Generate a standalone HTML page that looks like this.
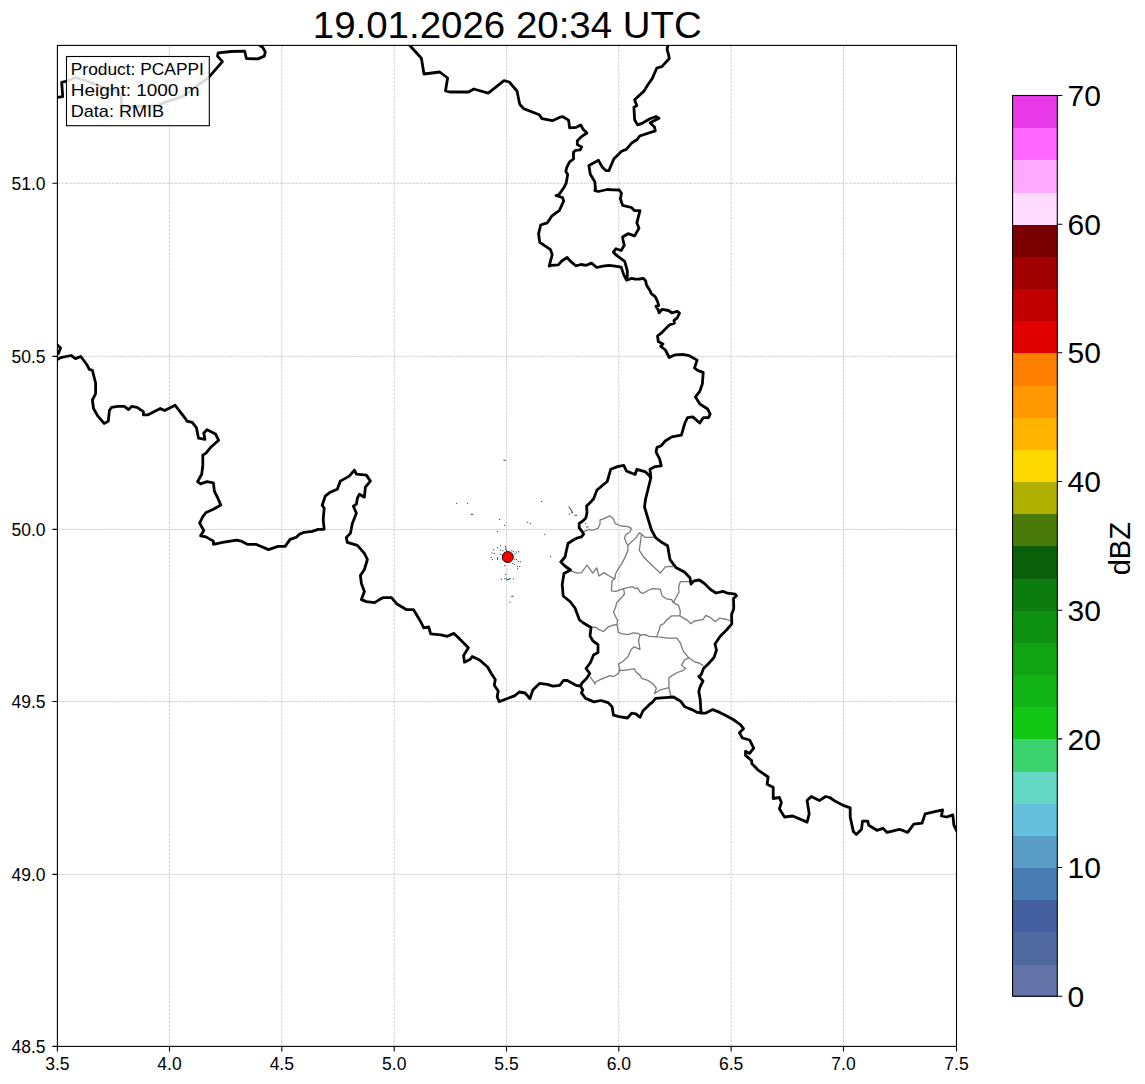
<!DOCTYPE html>
<html><head><meta charset="utf-8"><style>
html,body{margin:0;padding:0;background:#fff;width:1145px;height:1084px;overflow:hidden}
svg{display:block}
text{font-family:"Liberation Sans",sans-serif;fill:#000}
</style></head><body>
<svg width="1145" height="1084" viewBox="0 0 1145 1084">
<rect x="0" y="0" width="1145" height="1084" fill="#fff"/>

<path d="M169.5,45.4V1046.4M281.8,45.4V1046.4M394.2,45.4V1046.4M506.5,45.4V1046.4M618.8,45.4V1046.4M731.1,45.4V1046.4M843.5,45.4V1046.4M57.4,183.2H956.5M57.4,356.4H956.5M57.4,529.4H956.5M57.4,701.5H956.5M57.4,874.4H956.5" fill="none" stroke="#bcbcbc" stroke-width="0.7" stroke-dasharray="2.9,1"/>
<clipPath id="ax"><rect x="57.4" y="45.4" width="899.1" height="1001.0000000000001"/></clipPath>
<g clip-path="url(#ax)">
<rect x="500.1" y="544.9" width="1.1" height="1.1" fill="#34506e"/>
<rect x="504.9" y="545.9" width="1.1" height="1.1" fill="#34506e"/>
<rect x="497.0" y="547.0" width="1.1" height="1.1" fill="#34506e"/>
<rect x="492.8" y="549.0" width="1.1" height="1.1" fill="#34506e"/>
<rect x="500.1" y="549.7" width="1.1" height="1.1" fill="#34506e"/>
<rect x="502.2" y="550.1" width="1.1" height="1.1" fill="#34506e"/>
<rect x="511.2" y="550.1" width="1.1" height="1.1" fill="#34506e"/>
<rect x="512.9" y="551.1" width="1.1" height="1.1" fill="#34506e"/>
<rect x="516.0" y="551.5" width="1.1" height="1.1" fill="#34506e"/>
<rect x="518.1" y="551.1" width="1.1" height="1.1" fill="#34506e"/>
<rect x="491.4" y="552.5" width="1.1" height="1.1" fill="#34506e"/>
<rect x="493.8" y="552.9" width="1.1" height="1.1" fill="#34506e"/>
<rect x="500.1" y="553.9" width="1.1" height="1.1" fill="#34506e"/>
<rect x="514.3" y="553.2" width="1.1" height="1.1" fill="#34506e"/>
<rect x="490.7" y="557.0" width="1.1" height="1.1" fill="#34506e"/>
<rect x="491.8" y="559.1" width="1.1" height="1.1" fill="#34506e"/>
<rect x="514.3" y="558.7" width="1.1" height="1.1" fill="#34506e"/>
<rect x="516.0" y="559.1" width="1.1" height="1.1" fill="#34506e"/>
<rect x="517.7" y="560.8" width="1.1" height="1.1" fill="#34506e"/>
<rect x="519.8" y="561.2" width="1.1" height="1.1" fill="#34506e"/>
<rect x="512.2" y="562.9" width="1.1" height="1.1" fill="#34506e"/>
<rect x="513.9" y="563.9" width="1.1" height="1.1" fill="#34506e"/>
<rect x="504.2" y="565.0" width="1.1" height="1.1" fill="#34506e"/>
<rect x="517.0" y="566.0" width="1.1" height="1.1" fill="#34506e"/>
<rect x="519.1" y="566.0" width="1.1" height="1.1" fill="#34506e"/>
<rect x="517.0" y="568.1" width="1.1" height="1.1" fill="#34506e"/>
<rect x="505.3" y="574.0" width="1.1" height="1.1" fill="#34506e"/>
<rect x="500.8" y="578.8" width="1.1" height="1.1" fill="#34506e"/>
<rect x="504.2" y="578.1" width="1.1" height="1.1" fill="#34506e"/>
<rect x="512.9" y="578.1" width="1.1" height="1.1" fill="#34506e"/>
<rect x="511.5" y="595.8" width="1.1" height="1.1" fill="#34506e"/>
<rect x="509.5" y="601.7" width="1.1" height="1.1" fill="#34506e"/>
<rect x="456.0" y="502.8" width="1.1" height="1.1" fill="#34506e"/>
<rect x="467.0" y="502.8" width="1.1" height="1.1" fill="#34506e"/>
<rect x="499.0" y="518.9" width="1.1" height="1.1" fill="#34506e"/>
<rect x="504.1" y="524.9" width="1.1" height="1.1" fill="#34506e"/>
<rect x="497.0" y="531.0" width="1.1" height="1.1" fill="#34506e"/>
<rect x="526.8" y="521.7" width="1.1" height="1.1" fill="#34506e"/>
<rect x="530.0" y="523.0" width="1.1" height="1.1" fill="#34506e"/>
<rect x="541.0" y="500.9" width="1.1" height="1.1" fill="#34506e"/>
<rect x="544.1" y="533.8" width="1.1" height="1.1" fill="#34506e"/>
<rect x="585.0" y="523.0" width="1.1" height="1.1" fill="#34506e"/>
<rect x="568.9" y="513.7" width="1.1" height="1.1" fill="#34506e"/>
<rect x="549.9" y="556.2" width="1.1" height="1.1" fill="#34506e"/>
<path d="M505.8,547.5 L505.8,549.5 L507,550.5M497.5,557 L497.5,560M506,578.5 L507.5,579.8 L509.5,579 L510.5,578M503.5,460.4 L505.5,460.4M471,514.4 L473,514.4M511.5,596.3 L513.5,596.3M568.5,506.5 L570.5,509 L572.5,512.4M571,513 L573,512.5M574.5,515 L576,515.5 L577,515M586,527 L588.5,527" fill="none" stroke="#3a5a70" stroke-width="1.1"/>
<path d="M584,531.6 L589.5,529.4 L592.1,530.5 L598,528.3 L600,524 L600.1,519.8 L604.1,518.6 L609.7,515.8 L613.1,518.6 L615.4,523.7 L621.1,526 L627.9,526.6 L631.3,528.3 L630.2,531.7 L625.6,535.1 L624.5,537.9 L626.2,542.5 L627.9,545.3 L627.9,550.4 L624.5,558.4 L622.2,562.9 L617.7,569.7 L615.4,574.3 L614.8,578.8 L612,581.1 L611.4,590.9 L615.7,591.4 L623.6,588.7 L632.3,586.6 L635.8,588.7 L637.6,587.9 L640.2,592.2 L642.8,593.5 L648,590.5 L652.4,588.7 L660.3,589.2 L662,595.7 L666.4,598.8 L671.6,599.7 L673.4,602.7 L678.6,605.3 L680.3,611.4 L679.9,615.8 L683.8,618.4 L687.3,620.2 L690.8,623.7 L694.3,621 L700,620.2 L703,619.5 L705.8,615.3 L710,617.4 L715.5,621.6 L719.7,618.1 L726.7,619.5 L731.5,621M627.9,545.3 L635.8,537.9 L639.3,532.8 L641.5,534 L644.9,537.4 L649.5,537.4 L655,537.2M641.5,534 L640.4,542.5 L639.3,550.4 L643.8,557.2 L652.9,566.3 L660.3,573.1 L665.4,566.9 L670.5,566.3 L673,566.8M571.1,570.8 L576.8,573.1 L581.4,572.6 L587,565.2 L592.7,573.1 L596.7,568 L599,576 L604.1,572.6 L609.2,576 L614.8,578.8M690.8,582.2 L687.3,581.7 L680.3,581.7 L678.6,587 L679,592.2 L676,597.5 L673.4,602.7M679.9,615.8 L671.6,615.8 L666.4,620.2 L663.8,623.7 L660.3,625.4 L659.4,628.9 L656.8,636.8M623.6,588.7 L624.5,594 L621,598.3 L616.6,602.7 L615.7,607.1 L613.5,612.3 L615.7,616.7 L617.5,620.2 L617,624.5 L618.3,632.4 L621.8,633.7 L628,634.6 L633.2,632.8 L637.6,633.3 L640.2,635 L645.4,634.6 L648.9,636.3 L656.8,636.8 L661.1,637.2 L666.4,638.1 L676.9,638.1 L680.3,642.9 L683.5,651.5 L688.8,657.8 L695,662 L699.3,663.1 L703.4,665.7M617,624.5 L612.2,625.4 L607.9,627.2 L603.5,631.5 L600,630.2 L595.4,627.1 L591,627.5M640.2,635 L638.5,640 L640,649.4 L634.3,646.8 L631.1,649.4 L628,656.8 L622.7,661.5 L618.5,664.1 L619.6,669.4 L618.5,673.5 L613.3,676.7 L610.2,675.6 L600.7,679.3 L595.5,682 L595,684 L592.3,679.8 L590.2,676.7M618.5,670.4 L624.8,670.4 L630.1,669.4 L634.3,668.8 L636.4,672.5 L639.5,674.6 L641.6,678.3 L647.9,680.4 L653.1,684 L656.3,688.2 L654.7,693.5 L660.5,689.8 L668.9,687.7 L671,696.5M668.9,687.7 L668.9,677.7 L672,675.6 L677.2,672.5 L683.5,670.4 L685.6,668.3 L681.4,665.2 L684.6,659.9 L688.8,657.8" fill="none" stroke="#7a7a7a" stroke-width="1.3" stroke-linejoin="round"/>
<path d="M57.4,97.3 L62.7,96.7 L61.7,82.3 L67,81 L75.4,77.5 L85.2,80.3 L100.5,86.6 L115.9,90.7 L121.5,96.3 L121.3,104 L125,107 L150,106 L157.8,105.4 L166.2,101.9 L183,96.3 L199.7,83.8 L208.1,78.2 L222.4,61.7 L217.5,56.1 L218.2,52.9 L231.4,51.5 L244.7,51.2 L246.4,58.5 L258,58.9 L264.3,56.1 L265.3,51.9 L262.9,47.7 L259.4,45.2M409.6,45.2 L421.4,58.3 L424,74 L439.8,72 L447.6,78 L445.5,91 L450,92 L468.6,92 L473.8,89 L488.2,93.2 L497.4,85.8 L504,80.6 L509.2,82 L517,91 L519.7,104.2 L523.6,108.6 L539.3,114.7 L542,118.6 L552.4,120.7 L560,117.2 L562.9,116.7 L568.6,120.1 L569.6,127.8 L576.3,127.3 L580.7,124.9 L583.1,129.2 L586.9,133 L581.1,136.9 L577.3,140.7 L577.3,144.6 L581.6,147 L580.2,149.9 L575.4,150.4 L573.5,152.3 L573.5,159 L569.6,161.9 L566.7,167.6 L565.8,171.5 L567.7,174.4 L566.2,183 L563.8,187.8 L559,194.6 L556,195.5 L562.6,197.6 L563.7,201 L559.3,210.7 L556,212.9 L551.7,216.2 L547.3,222.8 L540.7,225 L538.6,233.7 L539.7,242.4 L543.5,244.8 L550.5,249.6 L552.2,254.8 L550.5,261 L549.2,266.2 L551.4,265.3 L558.3,264.9 L561.8,261 L567.1,257.5 L570.6,261.4 L575.8,265.8 L581,264.5 L586.3,265.3 L591.5,263.1 L596.8,267.5 L602.9,266.2 L609,265.3 L615.1,266.2 L621.2,267.1 L623.8,274.9 L626.5,280.2 L631.7,278.4 L635,279.2 L639.4,279 L643.4,278.3 L645.7,281 L646.5,284.9 L650.4,291.2 L651.2,293.6 L655.2,296.7 L657.5,301.4 L658.7,305.4 L655.9,306.2 L658.3,310.1 L659.1,312.8 L662.2,309.3 L668.5,310.5 L671.7,312.8 L677.2,311.3 L679.5,313.2 L677.2,318 L674,320.3 L674.4,323.1 L669.3,325 L664.6,329.7 L661.4,332.9 L657.5,336 L658.3,341.5 L663,343.9 L660.7,346.3 L665.4,350 L669.2,357.5 L675.3,354.8 L682.3,354.3 L689.3,355.7 L697.1,360.1 L694.5,368 L698,370.6 L703.2,372.3 L702.4,383.7 L699.7,391.5 L695.4,396.8 L699.7,403.8 L707.6,409 L710.2,414.2 L708.5,417.7 L703.2,417.7 L699.7,423 L692.8,416.9 L687.5,417.7 L684.9,423 L683.1,429.1 L681.4,435.2 L671.8,436.9 L664.8,441.3 L661.3,445.7 L657,447.4 L656,451.8 L659.6,458.8 L661.3,465.8 L655.2,466.6 L650,469.3 L650.8,478 L648.2,488.5 L645.6,499 L644.5,507 L649,522 L651.3,529.5 L655.6,537.7 L661.3,542 L667.6,545.7 L670,559.6 L675.8,567.4 L684.4,572.1 L690,577.8 L691,584 L694.1,580.8 L699.3,580 L704.5,583.5 L710.5,589.5 L716,593 L723,591.3 L727.5,593.2 L735.2,594.2 L736.5,595.7 L733.5,598.5 L733.7,605 L733.7,609 L731.6,614.6 L731.8,623.8 L726.5,630 L720,636.5 L715,644 L716.5,650 L714,657.5 L708.6,663.5 L703.5,668.5 L701,675 L698.8,676.5 L703,681 L700,687 L698.8,691.4 L700.2,699.6 L700.9,711 L701.2,713 L705.8,713.1 L712.8,709.6 L719.7,712.4 L725.3,715.2 L733.2,719.5 L740.4,724.6 L743.5,728.7 L739.4,732.8 L742.4,738 L749.6,740 L751.7,744.1 L753.7,748.2 L749.6,753.4 L745.5,751.3 L745.5,755.4 L751.7,760.6 L751.7,763.6 L757.8,769.8 L768.1,777 L767.1,784.2 L773.2,787.2 L773.2,798.5 L779.4,797.5 L781.4,802.6 L779.4,808.8 L784.5,817 L792.7,816 L807.1,822.1 L809.2,813.9 L807.1,800.6 L811.2,796.5 L819.4,800.6 L825.6,796.5 L829.7,797.5 L835.8,801.6 L844,805.7 L850.2,807.8 L850.2,817 L853.3,831.4 L856.4,834.4 L861.5,829.3 L862.5,821.1 L867.7,821.1 L868.7,825.2 L876.9,830.3 L883,828.3 L887.1,832.4 L899.5,829.3 L907.7,832.4 L913.8,824.2 L922,823.2 L925.1,813.9 L942.6,809.8 L941.5,816 L946.7,817 L952.8,814.9 L953.9,825.2 L956.9,831.4M667.8,45.4 L667.1,49.6 L668.6,54.8 L669.3,58.5 L661.9,66.6 L656.8,68 L652.3,78.4 L647.2,85.8 L644.2,90.9 L634.6,99.8 L636.8,105.7 L633.9,107.2 L634.6,119.7 L637.6,124.9 L642,123.4 L649.4,119 L656,116.5 L659,118.2 L650.1,122.7 L654.5,127.1 L655.3,130.8 L639.7,136 L636.9,139.8 L632.1,142.7 L626.3,149.4 L621.5,151.3 L613.8,159 L610.9,165.7 L609,170.5 L605.8,170.6 L602.1,166.9 L598.5,160.3 L588.9,165.5 L590.3,174.3 L594.8,181.7 L595.5,189.1 L594.8,190.6 L598.5,191.5 L607.3,189.5 L613.2,189.8 L619.3,190 L621.5,193.3 L620.4,198.7 L622.6,205.3 L631.4,207.5 L634.6,210.7 L640,210.7 L636.8,222.8 L639,228.2 L634.6,235.9 L628,233.7 L622.6,237 L623,240 L624.3,245.2 L621.2,250.5 L616,248.7 L613.4,252.2 L616.9,255.7 L624.7,261.4 L627.3,270.6 L627.3,276.7 L626.5,280.2M57.4,345 L60.6,348 L58.5,353.3 L57.4,354M57.4,359.7 L60.6,357.6 L71.2,355.5 L75.5,358.6 L80.8,356.5 L87.1,365 L89.3,369.3 L92.4,370.3 L95.6,383 L95.6,393.7 L92.4,400 L93.5,408.5 L97.7,415.9 L104.1,423.4 L108.3,421.2 L109.4,410.6 L111.5,407.4 L117.9,406.4 L124.3,406.4 L128.5,409.6 L131.7,406.4 L137,407.4 L143.4,411.7 L143.4,414.9 L147.6,414.9 L160.3,408.5 L164.6,410.6 L175.2,405.3 L185.8,419.1 L186.9,421.2 L192.2,422.3 L196.4,427.6 L198.5,438.2 L204.9,439.3 L203.8,432.9 L207,429.7 L215.5,434 L218.7,440.3 L211.3,446.7 L206,453.1 L202.8,455.2 L202.8,465.8 L201.7,474.3 L197.5,481.7 L200.6,483.8 L207,481.7 L213.4,482.8 L214.4,491.3 L217.6,497.6 L220.8,505 L213.4,509.3 L206,512.5 L202.8,516.7 L199.6,523.1 L203.8,530.5 L200.6,535.8 L206,536.9 L213.4,541.1 L213.4,544.3 L224,542.2 L236.7,540.1 L241,541.1 L247.3,544.3 L255.8,544.3 L268.5,549.6 L278,546.4 L285.1,546.4 L290.1,539.4 L296.1,537.4 L299.1,534.4 L304.2,532.3 L312.2,531.3 L318.2,529.3 L324.2,529.3 L323.2,519.3 L324.2,508.2 L322.2,505.2 L325.2,496.2 L330.3,492.2 L337.3,489.2 L340.3,481.1 L349.3,476.1 L354.4,470.1 L356.4,474.1 L366.4,475.1 L370.4,481.1 L365.4,487.1 L364.4,497.2 L359.4,494.2 L357.4,498.2 L356.4,504.2 L353.4,506.2 L356.4,513.3 L352.4,523.3 L350.4,533.3 L346.3,537.4 L347.3,542.4 L357.4,545.4 L364.4,553.4 L367.4,559.5 L364.4,569.5 L360.4,575.5 L361.4,583.6 L364.4,591.6 L361.4,599.6 L366.4,601.6 L374.5,602.6 L379.5,599.6 L383.5,597.6 L391.5,597.6 L396.6,603.7 L406.6,609.7 L413.6,609.7 L420.7,621.7 L423.7,627.8 L428.7,626.8 L430.7,633.8 L440.8,634.8 L447.2,636.3 L454,633.4 L460.7,640.1 L468.4,647.8 L463.6,655.5 L464.5,662.2 L470.3,659.3 L472.2,656.5 L479.9,660.3 L487.6,667 L491.4,673.8 L495.3,679.5 L494.3,685.3 L498.2,691 L497.2,696.8 L499.1,701.6 L506.8,698.7 L514.5,695.9 L519.3,692 L525.1,693 L529.9,698.7 L532.8,690.1 L539.5,683.4 L547.2,684.3 L552.9,686.2 L559.7,685.3 L563.5,680.5 L567.3,680.5 L576,685.3 L580.5,686M650.8,478 L649.1,475.4 L645.6,471.9 L636.9,469.3 L635.1,474.5 L626.4,471 L623.8,465.4 L617.6,466.6 L610.7,469.3 L607.2,481.5 L597,490 L593.5,499 L589.5,503.2 L586.6,506.1 L587,512.8 L585.8,518 L582.9,520.9 L579.2,523.5 L579.2,527.9 L582.5,532 L583.6,534.2 L581.5,536.8 L577,538 L572.5,540.5 L568,543.5 L565,557 L560.8,562 L565.5,566.5 L570.5,570 L564,573.5 L562.2,584.5 L563.2,596 L570,601.5 L575,608 L579.5,620 L583.5,623 L591,627.5 L590,636 L593,641 L598,644.6 L598,652.5 L593.5,655 L590.5,662.5 L586,668.5 L589.8,673.5 L586.5,678.5 L582,683 L580.5,686 L582.8,690 L581.4,692.8 L585.6,698.4 L594,701.9 L601,700.5 L608,702.6 L612.1,706.8 L613.5,715.2 L619.1,716.6 L627.5,718 L631.7,713.1 L635.9,713.8 L640.1,717.3 L642.9,711 L648.5,705.4 L652.7,701.9 L655.5,698.4 L665.2,697.7 L673.6,697 L680.6,701.2 L684.8,706.8 L691.8,709.6 L697.4,712.4 L701.2,713" fill="none" stroke="#000" stroke-width="2.8" stroke-linejoin="round" stroke-linecap="round"/>
<circle cx="507.8" cy="557" r="5.5" fill="#ff0000" stroke="#200000" stroke-width="1"/>
</g>
<rect x="57.4" y="45.4" width="899.1" height="1001.0000000000001" fill="none" stroke="#000" stroke-width="1.1"/>
<path d="M57.4,1046.4V1051.4M169.5,1046.4V1051.4M281.8,1046.4V1051.4M394.2,1046.4V1051.4M506.5,1046.4V1051.4M618.8,1046.4V1051.4M731.1,1046.4V1051.4M843.5,1046.4V1051.4M956.5,1046.4V1051.4M57.4,183.2H52.4M57.4,356.4H52.4M57.4,529.4H52.4M57.4,701.5H52.4M57.4,874.4H52.4M57.4,1046.4H52.4" stroke="#000" stroke-width="1.1"/>
<text x="57.4" y="1070" font-size="17.5" text-anchor="middle">3.5</text>
<text x="169.5" y="1070" font-size="17.5" text-anchor="middle">4.0</text>
<text x="281.8" y="1070" font-size="17.5" text-anchor="middle">4.5</text>
<text x="394.2" y="1070" font-size="17.5" text-anchor="middle">5.0</text>
<text x="506.5" y="1070" font-size="17.5" text-anchor="middle">5.5</text>
<text x="618.8" y="1070" font-size="17.5" text-anchor="middle">6.0</text>
<text x="731.1" y="1070" font-size="17.5" text-anchor="middle">6.5</text>
<text x="843.5" y="1070" font-size="17.5" text-anchor="middle">7.0</text>
<text x="956.5" y="1070" font-size="17.5" text-anchor="middle">7.5</text>
<text x="45.5" y="189.5" font-size="17.5" text-anchor="end">51.0</text>
<text x="45.5" y="362.7" font-size="17.5" text-anchor="end">50.5</text>
<text x="45.5" y="535.7" font-size="17.5" text-anchor="end">50.0</text>
<text x="45.5" y="707.8" font-size="17.5" text-anchor="end">49.5</text>
<text x="45.5" y="880.7" font-size="17.5" text-anchor="end">49.0</text>
<text x="45.5" y="1052.7" font-size="17.5" text-anchor="end">48.5</text>
<text x="507.3" y="38.2" font-size="37" text-anchor="middle" textLength="389" lengthAdjust="spacingAndGlyphs">19.01.2026 20:34 UTC</text>
<rect x="66.5" y="56.5" width="142.8" height="69.2" fill="#fff" fill-opacity="0.85" stroke="#000" stroke-width="1.1"/>
<text x="70.8" y="74.6" font-size="17" textLength="133.1" lengthAdjust="spacingAndGlyphs">Product: PCAPPI</text>
<text x="70.8" y="95.6" font-size="17" textLength="128.7" lengthAdjust="spacingAndGlyphs">Height: 1000 m</text>
<text x="70.8" y="116.6" font-size="17" textLength="93.2" lengthAdjust="spacingAndGlyphs">Data: RMIB</text>
<rect x="1012.6" y="964.03" width="44.7" height="32.67" fill="#6474a8" shape-rendering="crispEdges"/>
<rect x="1012.6" y="931.86" width="44.7" height="32.67" fill="#5068a0" shape-rendering="crispEdges"/>
<rect x="1012.6" y="899.70" width="44.7" height="32.67" fill="#4460a0" shape-rendering="crispEdges"/>
<rect x="1012.6" y="867.53" width="44.7" height="32.67" fill="#4a7cb4" shape-rendering="crispEdges"/>
<rect x="1012.6" y="835.36" width="44.7" height="32.67" fill="#5a9ec8" shape-rendering="crispEdges"/>
<rect x="1012.6" y="803.19" width="44.7" height="32.67" fill="#64c0dc" shape-rendering="crispEdges"/>
<rect x="1012.6" y="771.03" width="44.7" height="32.67" fill="#64d8c4" shape-rendering="crispEdges"/>
<rect x="1012.6" y="738.86" width="44.7" height="32.67" fill="#3cd46e" shape-rendering="crispEdges"/>
<rect x="1012.6" y="706.69" width="44.7" height="32.67" fill="#12c814" shape-rendering="crispEdges"/>
<rect x="1012.6" y="674.52" width="44.7" height="32.67" fill="#10b414" shape-rendering="crispEdges"/>
<rect x="1012.6" y="642.35" width="44.7" height="32.67" fill="#10a412" shape-rendering="crispEdges"/>
<rect x="1012.6" y="610.19" width="44.7" height="32.67" fill="#0e9010" shape-rendering="crispEdges"/>
<rect x="1012.6" y="578.02" width="44.7" height="32.67" fill="#0c7c0e" shape-rendering="crispEdges"/>
<rect x="1012.6" y="545.85" width="44.7" height="32.67" fill="#0a600a" shape-rendering="crispEdges"/>
<rect x="1012.6" y="513.68" width="44.7" height="32.67" fill="#4a7a0a" shape-rendering="crispEdges"/>
<rect x="1012.6" y="481.51" width="44.7" height="32.67" fill="#b0b000" shape-rendering="crispEdges"/>
<rect x="1012.6" y="449.35" width="44.7" height="32.67" fill="#ffd800" shape-rendering="crispEdges"/>
<rect x="1012.6" y="417.18" width="44.7" height="32.67" fill="#ffb400" shape-rendering="crispEdges"/>
<rect x="1012.6" y="385.01" width="44.7" height="32.67" fill="#ff9800" shape-rendering="crispEdges"/>
<rect x="1012.6" y="352.84" width="44.7" height="32.67" fill="#ff8000" shape-rendering="crispEdges"/>
<rect x="1012.6" y="320.67" width="44.7" height="32.67" fill="#e00000" shape-rendering="crispEdges"/>
<rect x="1012.6" y="288.51" width="44.7" height="32.67" fill="#c00000" shape-rendering="crispEdges"/>
<rect x="1012.6" y="256.34" width="44.7" height="32.67" fill="#a00000" shape-rendering="crispEdges"/>
<rect x="1012.6" y="224.17" width="44.7" height="32.67" fill="#7a0000" shape-rendering="crispEdges"/>
<rect x="1012.6" y="192.00" width="44.7" height="32.67" fill="#ffdcff" shape-rendering="crispEdges"/>
<rect x="1012.6" y="159.84" width="44.7" height="32.67" fill="#ffaaff" shape-rendering="crispEdges"/>
<rect x="1012.6" y="127.67" width="44.7" height="32.67" fill="#ff66ff" shape-rendering="crispEdges"/>
<rect x="1012.6" y="95.50" width="44.7" height="32.67" fill="#e83ae8" shape-rendering="crispEdges"/>
<rect x="1012.6" y="95.5" width="44.7" height="900.7" fill="none" stroke="#000" stroke-width="1.1"/>
<text x="1067.5" y="1006.8" font-size="30">0</text>
<text x="1067.5" y="878.1" font-size="30">10</text>
<text x="1067.5" y="749.5" font-size="30">20</text>
<text x="1067.5" y="620.8" font-size="30">30</text>
<text x="1067.5" y="492.1" font-size="30">40</text>
<text x="1067.5" y="363.4" font-size="30">50</text>
<text x="1067.5" y="234.8" font-size="30">60</text>
<text x="1067.5" y="106.1" font-size="30">70</text>
<path d="M1057.3,996.2H1062.3M1057.3,867.5H1062.3M1057.3,738.9H1062.3M1057.3,610.2H1062.3M1057.3,481.5H1062.3M1057.3,352.8H1062.3M1057.3,224.2H1062.3M1057.3,95.5H1062.3" stroke="#000" stroke-width="1.1"/>
<text x="0" y="0" font-size="29" text-anchor="middle" transform="translate(1130,548.7) rotate(-90)">dBZ</text>
</svg></body></html>
